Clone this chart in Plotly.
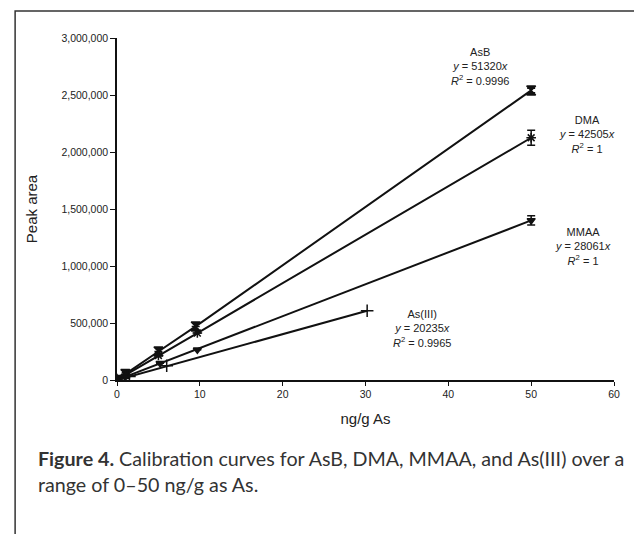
import plotly.graph_objects as go

# Data
asb_x = [0, 1, 5, 9.5, 50]
asb_y = [0, 52000, 250000, 470000, 2540000]
asb_err = [0, 0, 0, 0, 20000]

dma_x = [0, 1, 5, 9.7, 50]
dma_y = [0, 43000, 215000, 412000, 2125000]
dma_err = [0, 0, 0, 0, 65000]

mmaa_x = [0, 1, 5.2, 9.7, 50]
mmaa_y = [0, 28000, 146000, 265000, 1400000]
mmaa_err = [0, 0, 0, 0, 40000]

as3_x = [0, 1.5, 6, 30.2]
as3_y = [0, 30000, 125000, 607000]

labels = [
    ("AsB", "51320", "0.9996"),
    ("DMA", "42505", "1"),
    ("MMAA", "28061", "1"),
    ("As(III)", "20235", "0.9965"),
]

FONT = "Liberation Sans, Arial, sans-serif"

fig = go.Figure()

def add(x, y, err, symbol, size):
    fig.add_trace(go.Scatter(
        x=x, y=y, mode="lines+markers",
        line=dict(color="#111", width=2),
        marker=dict(symbol=symbol, size=size, color="#111",
                    line=dict(color="#111", width=1.5)),
        error_y=dict(type="data", array=err, visible=True,
                     color="#111", thickness=1.5, width=4) if err is not None else None,
        showlegend=False,
    ))

add(asb_x, asb_y, asb_err, "hourglass", 9)
add(dma_x, dma_y, dma_err, "asterisk-open", 8)
add(mmaa_x, mmaa_y, mmaa_err, "triangle-down", 7)
add(as3_x, as3_y, None, "cross-thin-open", 9)

# equation labels (positions in data coords)
lab_pos = [(43.8, 2.746e6), (56.8, 2.15e6), (56.3, 1.167e6), (36.8, 0.456e6)]
for (name, slope, r2), (lx, ly) in zip(labels, lab_pos):
    fig.add_annotation(
        x=lx, y=ly, xref="x", yref="y", showarrow=False,
        text=f"{name}<br><i>y</i> = {slope}<i>x</i><br><i>R</i><sup>2</sup> = {r2}",
        font=dict(family=FONT, size=11, color="#222"), align="center",
    )

fig.add_annotation(
    x=-0.163, y=-0.19, xref="paper", yref="paper", showarrow=False,
    xanchor="left", yanchor="top", align="left",
    text="<b>Figure 4.</b> Calibration curves for AsB, DMA, MMAA, and As(III) over a<br>range of 0–50 ng/g as As.",
    font=dict(family="Lato, Open Sans, sans-serif", size=19.7, color="#333"),
)

fig.add_shape(type="rect", xref="paper", yref="paper",
              x0=-0.205, y0=-0.6, x1=1.2, y1=1.079,
              line=dict(color="#333", width=1.5), layer="below")

fig.update_xaxes(range=[0, 60], dtick=10, showgrid=False, zeroline=False,
                 showline=True, linecolor="#111", linewidth=1.5,
                 ticks="outside", ticklen=4, tickcolor="#111",
                 tickfont=dict(family=FONT, size=10.5, color="#222"),
                 title=dict(text="ng/g As", font=dict(family=FONT, size=15, color="#222"), standoff=14))
fig.update_yaxes(range=[0, 3000000], dtick=500000, tickformat=",", showgrid=False,
                 zeroline=False, showline=True, linecolor="#111", linewidth=1.5,
                 ticks="outside", ticklen=5, tickcolor="#111",
                 tickfont=dict(family=FONT, size=10.5, color="#222"),
                 title=dict(text="Peak area", font=dict(family=FONT, size=15, color="#222"), standoff=20))

fig.update_layout(width=634, height=534, margin=dict(l=117, r=20, t=38, b=154),
                  plot_bgcolor="white", paper_bgcolor="white")

fig.write_html("out.html")
